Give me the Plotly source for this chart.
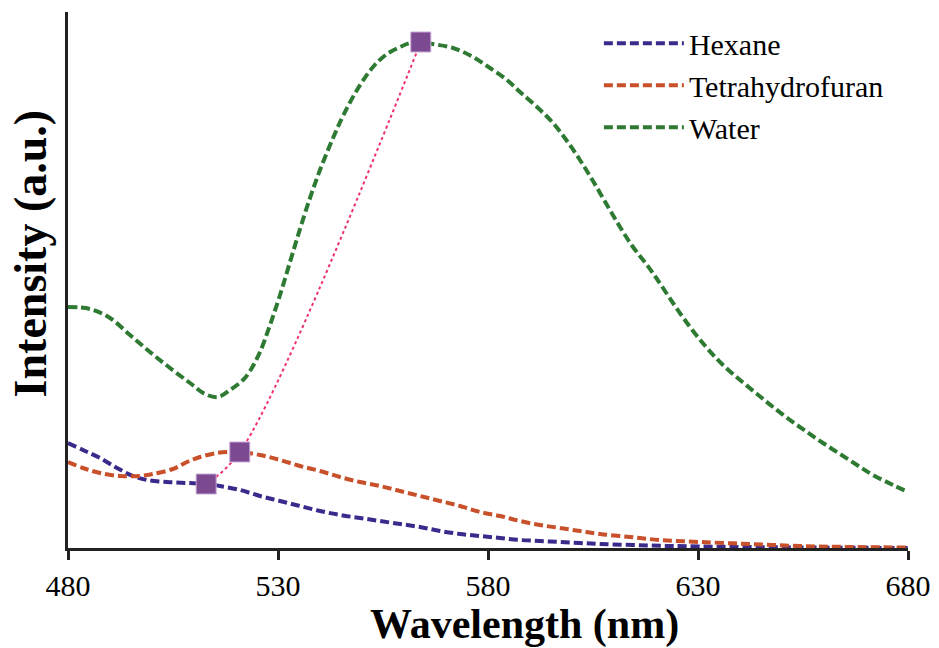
import plotly.graph_objects as go

# Values (wavelength in nm, intensity in arbitrary units)
wavelength_water = [480.0, 485.24, 490.0, 494.76, 499.52, 504.29, 509.05, 512.62, 515.71, 518.57,
                    521.67, 523.33, 525.71, 528.10, 530.48, 532.86, 535.24, 537.62, 540.0, 543.10,
                    545.48, 548.81, 552.62, 555.95, 559.05, 561.43, 564.05, 566.90, 571.67, 576.43,
                    580.48, 584.52, 587.62, 591.67, 595.48, 598.81, 601.90, 605.0, 608.33, 611.43,
                    614.52, 617.86, 620.24, 624.05, 628.10, 632.14, 635.95, 640.0, 644.05, 647.86,
                    651.90, 655.95, 659.76, 663.81, 667.86, 671.67, 676.43, 680.0]
intensity_water = [241, 239, 230, 213, 196, 180, 165, 154, 151, 158,
                   168, 177, 196, 223, 253, 286, 319, 350, 378, 410,
                   432, 458, 481, 494, 501, 505, 506, 504, 500, 491,
                   480, 468, 456, 441, 425, 407, 388, 367, 343, 321,
                   301, 283, 269, 245, 221, 200, 183, 168, 154, 141,
                   128, 116, 105, 94, 83, 73, 63, 56]

wavelength_hexane = [480.0, 483.57, 487.62, 491.67, 495.48, 498.81, 503.57, 508.33, 513.10, 516.19,
                     520.95, 525.71, 530.48, 535.24, 540.0, 544.76, 549.52, 554.29, 559.05, 563.81,
                     568.57, 573.33, 578.10, 582.86, 587.62, 592.38, 597.14, 601.90, 606.67, 618.57,
                     630.48, 654.29, 680.0]
intensity_hexane = [105, 98, 90, 80, 72, 68, 66, 65, 64, 62,
                    58, 52, 47, 42, 37, 33, 30, 27, 24, 21,
                    17, 14, 12, 10, 8, 7, 6, 5, 4, 2.5,
                    1.5, 0.5, 0]

wavelength_thf = [480.0, 483.57, 487.62, 492.38, 497.14, 500.24, 505.0, 508.33, 511.43, 515.48,
                  518.57, 520.95, 525.71, 530.48, 535.24, 540.0, 544.76, 549.52, 554.29, 559.05,
                  563.81, 568.57, 573.33, 578.10, 582.86, 587.62, 592.38, 597.14, 601.90, 606.67,
                  613.81, 620.95, 630.48, 642.38, 654.29, 666.19, 680.0]
intensity_thf = [86, 80, 75, 72, 72, 74, 79, 86, 91, 95,
                 96, 96, 93, 88, 82, 77, 71, 66, 62, 57,
                 52, 47, 42, 36, 32, 27, 23, 20, 17, 14,
                 11, 8, 6, 4, 2, 1, 0.5]

peak_wl = [512.9, 520.9, 564.0]
peak_int = [64, 96, 506]

x_ticks = [480, 530, 580, 630, 680]

font_family = "Liberation Serif, Times New Roman, serif"
dash = "9px,4px"

fig = go.Figure()
fig.add_trace(go.Scatter(x=wavelength_hexane, y=intensity_hexane, mode="lines", name="Hexane",
                         line=dict(color="#3B2A8C", width=4, dash=dash, shape="spline"), legendgroup="a"))
fig.add_trace(go.Scatter(x=wavelength_thf, y=intensity_thf, mode="lines", name="Tetrahydrofuran",
                         line=dict(color="#C8502A", width=4, dash=dash, shape="spline"), legendgroup="b"))
fig.add_trace(go.Scatter(x=wavelength_water, y=intensity_water, mode="lines", name="Water",
                         line=dict(color="#2E7A32", width=4, dash=dash, shape="spline"), legendgroup="c"))
fig.add_trace(go.Scatter(x=peak_wl, y=peak_int, mode="lines+markers", showlegend=False,
                         line=dict(color="#F0306E", width=2, dash="dot", shape="spline"),
                         marker=dict(symbol="square", size=20, color="#7B4A91",
                                     line=dict(color="#C9A8D6", width=1))))

fig.update_layout(
    width=939, height=648,
    margin=dict(l=68, r=31, t=12, b=100),
    paper_bgcolor="white", plot_bgcolor="white",
    font=dict(family=font_family, color="black"),
    legend=dict(x=0.632, y=0.99, xanchor="left", yanchor="top", bgcolor="rgba(0,0,0,0)",
                font=dict(size=30, family=font_family), itemwidth=80, tracegroupgap=0,
                traceorder="grouped"),
    xaxis=dict(range=[480, 680], tickvals=x_ticks, ticks="outside", ticklen=9, tickwidth=2.5,
               tickcolor="#222", showline=True, linecolor="#222", linewidth=2.5, showgrid=False,
               zeroline=False, tickfont=dict(size=30, family=font_family), automargin=False),
    yaxis=dict(range=[0, 536], showticklabels=False, ticks="", showline=True, linecolor="#222",
               linewidth=2.5, showgrid=False, zeroline=False, automargin=False),
    annotations=[
        dict(text="<b>Wavelength (nm)</b>", xref="paper", yref="paper", x=0.544, y=-0.143,
             xanchor="center", yanchor="middle", showarrow=False,
             font=dict(size=42, family=font_family, color="black")),
        dict(text="<b>Intensity (a.u.)</b>", xref="paper", yref="paper", x=-0.045, y=0.55,
             xanchor="center", yanchor="middle", showarrow=False, textangle=-90,
             font=dict(size=46, family=font_family, color="black")),
    ],
)

fig.write_html("out.html")
